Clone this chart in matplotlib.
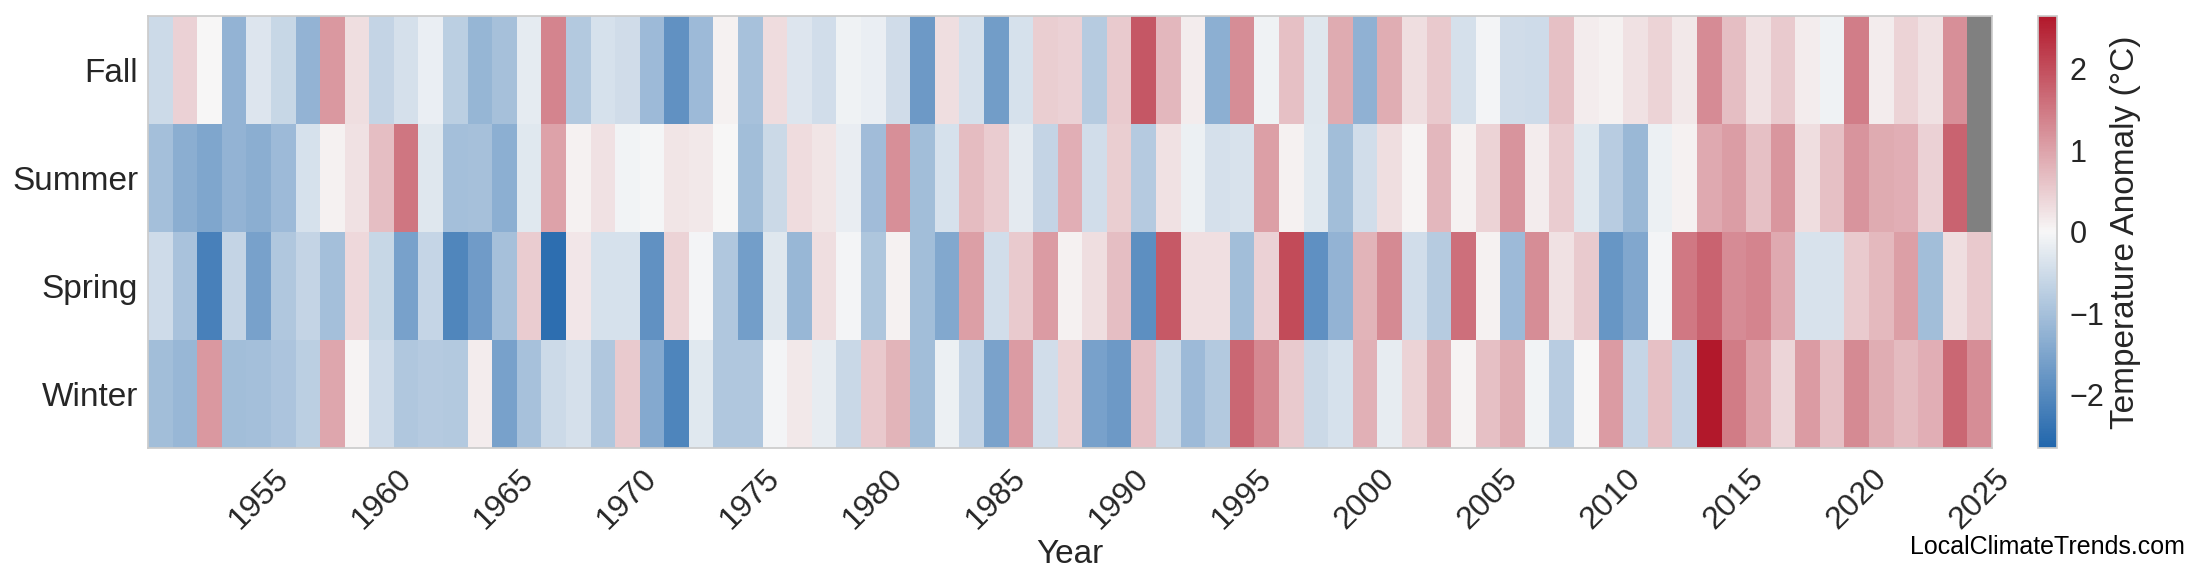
import numpy as np
import matplotlib
matplotlib.use("Agg")
import matplotlib.pyplot as plt
from matplotlib.colors import LinearSegmentedColormap

years = list(range(1951, 2026))
seasons = ["Winter", "Spring", "Summer", "Fall"]
tick_years = list(range(1955, 2026, 5))

fall = [-0.52, 0.45, 0.0, -1.24, -0.33, -0.58, -1.24, 1.13, 0.29, -0.64, -0.43, -0.15, -0.73, -1.2, -1.0, -0.21, 1.36, -0.83, -0.4,
        -0.48, -1.11, -1.86, -1.11, 0.07, -0.99, 0.32, -0.32, -0.46, -0.09, -0.15, -0.48, -1.7, 0.31, -0.42, -1.65, -0.41, 0.48, 0.45,
        -0.79, 0.52, 1.9, 0.75, 0.14, -1.31, 1.25, -0.09, 0.66, -0.31, 0.9, -1.28, 0.87, 0.31, 0.55, -0.43, -0.05, -0.48,
        -0.5, 0.66, 0.14, 0.08, 0.25, 0.42, 0.18, 1.27, 0.68, 0.26, 0.52, 0.13, -0.09, 1.44, 0.14, 0.42, 0.26, 1.23, np.nan]
summer = [-1.02, -1.33, -1.47, -1.24, -1.33, -1.11, -0.4, 0.07, 0.26, 0.68, 1.52, -0.31, -1.03, -1.0, -1.32, -0.27, 1.0, 0.08, 0.25,
          -0.07, -0.04, 0.22, 0.17, 0.0, -1.05, -0.54, 0.32, 0.22, -0.17, -1.06, 1.23, -1.05, -0.41, 0.7, 0.5, -0.24, -0.63, 0.86,
          -0.46, 0.49, -0.82, 0.26, -0.14, -0.42, -0.38, 1.05, 0.07, -0.28, -1.05, -0.46, 0.3, 0.05, 0.75, 0.07, 0.43, 1.16,
          0.14, 0.5, -0.27, -0.78, -1.14, -0.14, 0.07, 0.93, 1.06, 0.65, 1.14, 0.3, 0.65, 1.17, 0.9, 0.86, 0.45, 1.75, np.nan]
spring = [-0.5, -0.97, -2.17, -0.63, -1.57, -0.88, -0.64, -1.02, 0.36, -0.6, -1.57, -0.62, -2.05, -1.67, -1.0, 0.5, -2.5, 0.2, -0.4,
          -0.41, -1.85, 0.42, -0.05, -0.89, -1.62, -0.31, -1.16, 0.3, -0.05, -0.91, 0.07, -1.05, -1.44, 1.04, -0.46, 0.52, 1.08, 0.07,
          0.29, 0.68, -1.9, 1.87, 0.27, 0.27, -1.04, 0.45, 2.03, -1.88, -1.23, 0.8, 1.29, -0.46, -0.79, 1.6, 0.07, -1.11,
          1.25, 0.25, 0.52, -1.78, -1.45, -0.05, 1.5, 1.75, 1.27, 1.36, 0.93, -0.38, -0.38, 0.52, 0.73, 1.05, -1.04, 0.3, 0.55]
winter = [-1.05, -1.17, 1.12, -1.05, -1.02, -0.93, -0.73, 0.96, 0.05, -0.5, -0.87, -0.82, -0.83, 0.14, -1.57, -0.98, -0.52, -0.42, -0.89,
          0.53, -1.42, -2.08, -0.28, -0.89, -0.89, -0.06, 0.18, -0.19, -0.57, 0.55, 0.8, -1.05, -0.14, -0.64, -1.55, 1.09, -0.46, 0.42,
          -1.57, -1.7, 0.66, -0.55, -1.11, -0.83, 1.7, 1.31, 0.53, -0.55, -0.41, 0.84, -0.19, 0.42, 0.9, 0.05, 0.66, 0.87,
          -0.07, -0.78, 0.0, 1.09, -0.62, 0.65, -0.64, 2.65, 1.45, 1.01, 0.4, 1.09, 0.66, 1.3, 0.88, 0.71, 0.86, 1.7, 1.26]

plt.rcParams["font.family"] = ["Liberation Sans", "DejaVu Sans"]
text_color = "#262626"
plt.rcParams["text.color"] = text_color
plt.rcParams["axes.labelcolor"] = text_color
plt.rcParams["xtick.color"] = text_color
plt.rcParams["ytick.color"] = text_color

raw = np.array([winter, spring, summer, fall], dtype=float)
data = np.ma.masked_invalid(raw)
vmax = float(np.nanmax(np.abs(raw)))

cmap = LinearSegmentedColormap.from_list("anom", ["#2166ac", "#f7f7f7", "#b2182b"])
cmap.set_bad("#808080")

fig = plt.figure(figsize=(22, 5.85), dpi=100)
ax = fig.add_axes([148 / 2200, 1 - 448 / 585, (1992 - 148) / 2200, (448 - 15.7) / 585])
cax = fig.add_axes([2037.7 / 2200, 1 - 448 / 585, 19.5 / 2200, (448 - 15.7) / 585])

x_edges = np.arange(years[0] - 0.5, years[-1] + 1.0, 1.0)
y_edges = np.arange(len(seasons) + 1) - 0.5
mesh = ax.pcolormesh(x_edges, y_edges, data, cmap=cmap, vmin=-vmax, vmax=vmax)

ax.set_xlim(x_edges[0], x_edges[-1])
ax.set_ylim(y_edges[0], y_edges[-1])
ax.set_yticks(range(len(seasons)))
ax.set_yticklabels(seasons, fontsize=24)
ax.set_xticks(tick_years)
ax.set_xticklabels([str(y) for y in tick_years], fontsize=23, rotation=45, ha="center")
ax.tick_params(axis="both", length=0)
ax.tick_params(axis="y", pad=7)
ax.tick_params(axis="x", pad=11)
ax.set_xlabel("Year", fontsize=24, labelpad=3)
for s in ax.spines.values():
    s.set_color("#cccccc")
    s.set_linewidth(1.25)

cb = fig.colorbar(mesh, cax=cax)
cb.set_ticks([-2, -1, 0, 1, 2])
cb.ax.tick_params(length=0, labelsize=22, pad=9)
cb.set_label("Temperature Anomaly (°C)", fontsize=24, labelpad=4)
cb.outline.set_edgecolor("#cccccc")
cb.outline.set_linewidth(1.25)

fig.text(0.993, 1 - 554 / 585, "LocalClimateTrends.com", fontsize=18, ha="right", va="baseline", color="black")

fig.savefig("out.png", dpi=100, facecolor="white")
